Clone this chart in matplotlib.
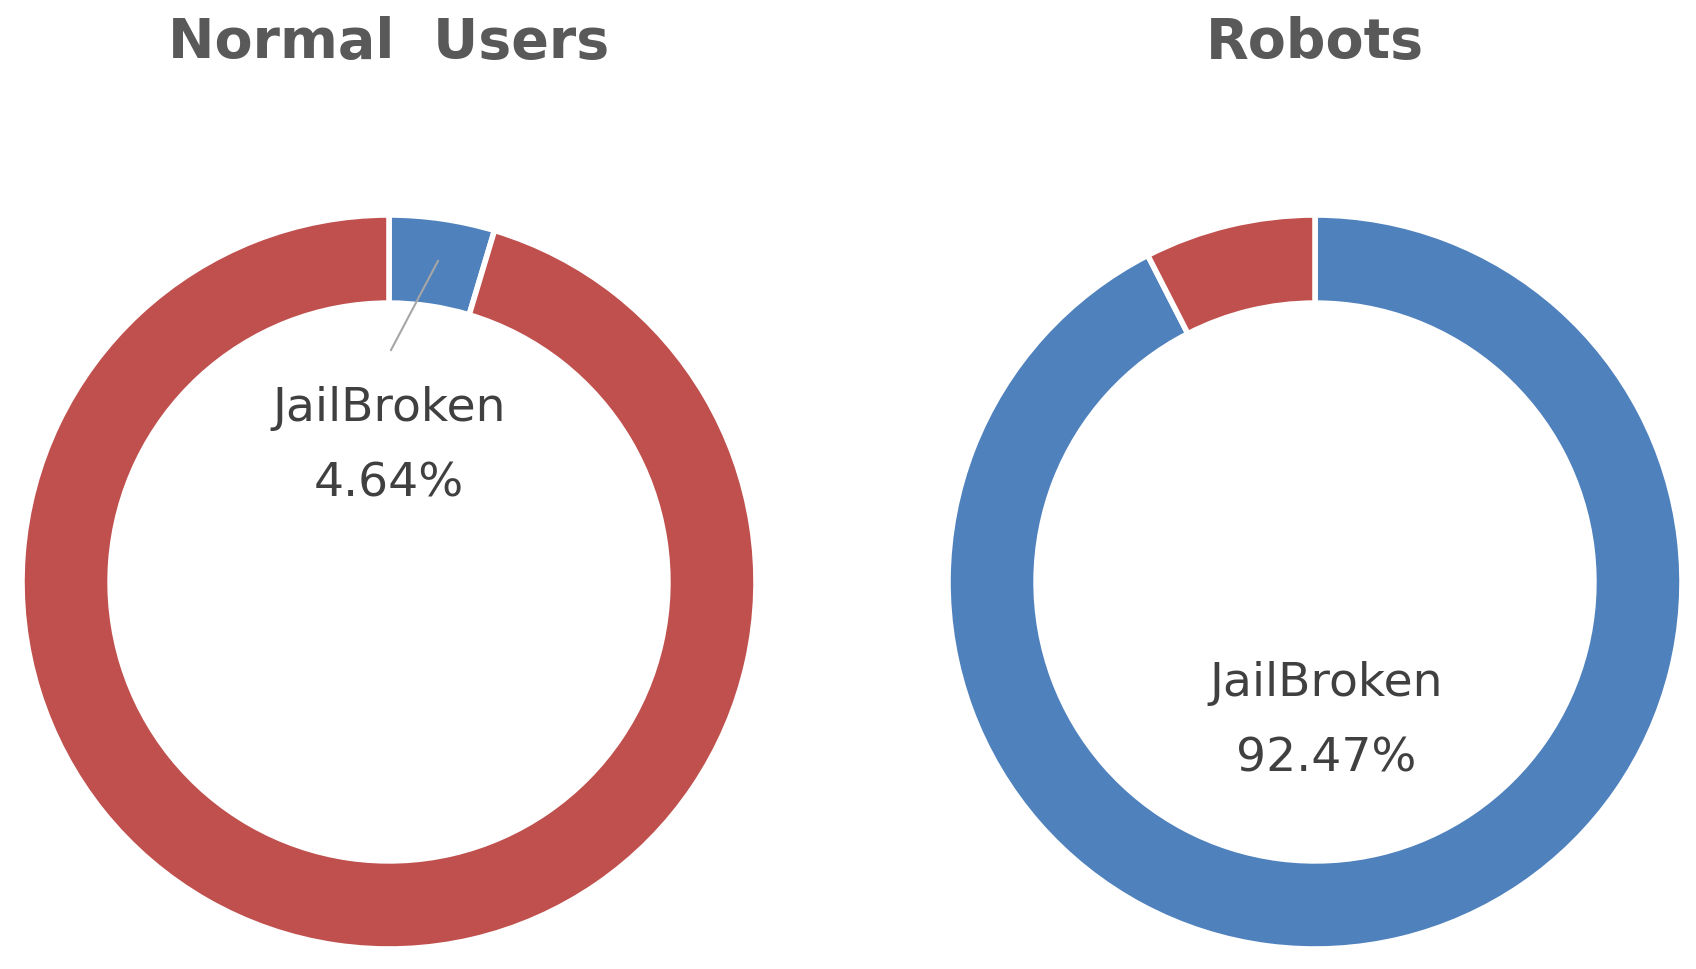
import matplotlib
matplotlib.use("Agg")
import matplotlib.pyplot as plt

# data
groups = ["Normal  Users", "Robots"]
jailbroken_pct = [4.64, 92.47]
colors = ["#4F81BD", "#C0504D"]

W, H = 1696, 969
fig = plt.figure(figsize=(W / 100, H / 100), dpi=100)
ax = fig.add_axes([0, 0, 1, 1])
ax.set_xlim(0, W); ax.set_ylim(0, H); ax.set_aspect("equal"); ax.axis("off")

centers = [(389, 387), (1315, 387)]
R = 367
for (cx, cy), name, p in zip(centers, groups, jailbroken_pct):
    ax.pie([p, 100 - p], colors=colors, startangle=90, counterclock=False,
           center=(cx, cy), radius=R, frame=True,
           wedgeprops=dict(width=R * 0.24, edgecolor="white", linewidth=4))
    ax.text(cx, 926, name, ha="center", va="center", fontsize=40,
            fontweight="bold", color="#595959")

ax.set_xlim(0, W); ax.set_ylim(0, H); ax.axis("off")

# labels
ax.plot([438, 391], [708, 619], color="#A6A6A6", lw=1.5)
ax.text(389, 561, "JailBroken", ha="center", va="center", fontsize=34, color="#404040")
ax.text(389, 485, f"{jailbroken_pct[0]:.2f}%", ha="center", va="center", fontsize=34, color="#404040")
ax.text(1326, 286, "JailBroken", ha="center", va="center", fontsize=34, color="#404040")
ax.text(1326, 210, f"{jailbroken_pct[1]:.2f}%", ha="center", va="center", fontsize=34, color="#404040")

fig.savefig("out.png", dpi=100)
